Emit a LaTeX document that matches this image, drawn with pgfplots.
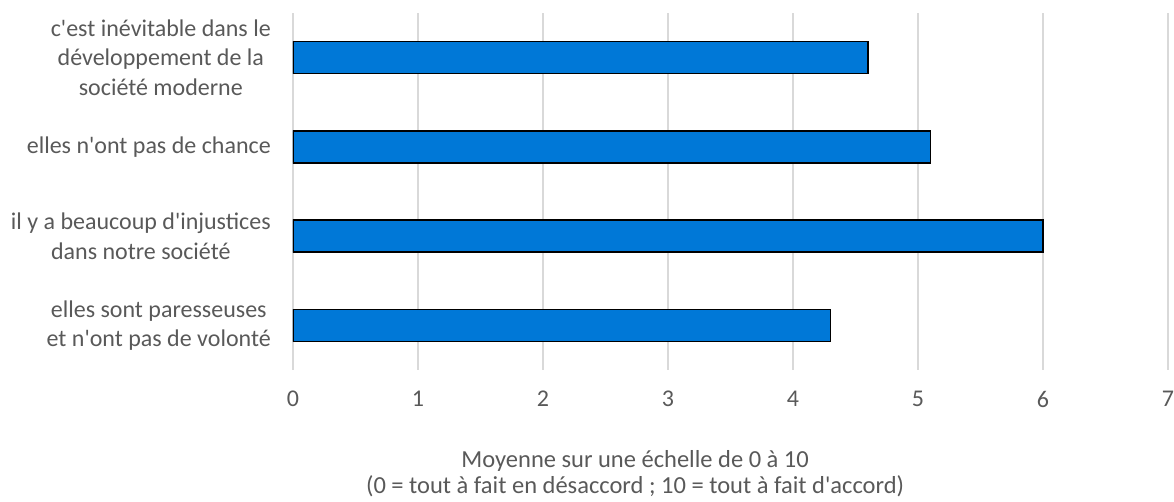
\documentclass[border=0pt]{standalone}
\usepackage{pgfplots}
\pgfplotsset{compat=1.18}
\usepackage{fontspec}
\setmainfont{Carlito}[Ligatures=TeXOff]
\definecolor{barblue}{RGB}{0,120,215}
\definecolor{txtgray}{RGB}{89,89,89}
\definecolor{gridgray}{RGB}{217,217,217}
\begin{document}
\fontsize{24}{29}\selectfont
\begin{tikzpicture}
\useasboundingbox (-293pt,-132pt) rectangle (881pt,370pt);
\begin{axis}[
  at={(0,0)}, anchor=south west,
  scale only axis,
  width=875pt, height=357pt,
  xbar, bar width=32pt,
  xmin=0, xmax=7, ymin=-0.5, ymax=3.5,
  xtick={0,1,...,7},
  ytick={0,1,2,3},
  yticklabels={{elles sont paresseuses\\et n'ont pas de volonté},{il y a beaucoup d'injustices\\dans notre société},{elles n'ont pas de chance},{c'est inévitable dans le\\développement de la\\société moderne}},
  yticklabel style={align=center, font=\fontsize{24}{29.5}\selectfont, text=txtgray, xshift=-14pt},
  xticklabel style={font=\fontsize{24}{28}\selectfont, text=txtgray, yshift=-13pt},
  /pgf/number format/assume math mode=true,
  axis line style={draw=none},
  major tick length=0pt,
  xmajorgrids, grid style={gridgray, line width=1.5pt},
  xlabel={Moyenne sur une échelle de 0 à 10\\(0 = tout à fait en désaccord ; 10 = tout à fait d'accord)},
  xlabel style={align=center, font=\fontsize{24.5}{26}\selectfont, text=txtgray, at={(axis description cs:0.391,-0.29)}, anchor=center},
]
\addplot[fill=barblue, draw=black, line width=1.3pt] coordinates {(4.3,0) (6.0,1) (5.1,2) (4.6,3)};
\end{axis}
\end{tikzpicture}
\end{document}
